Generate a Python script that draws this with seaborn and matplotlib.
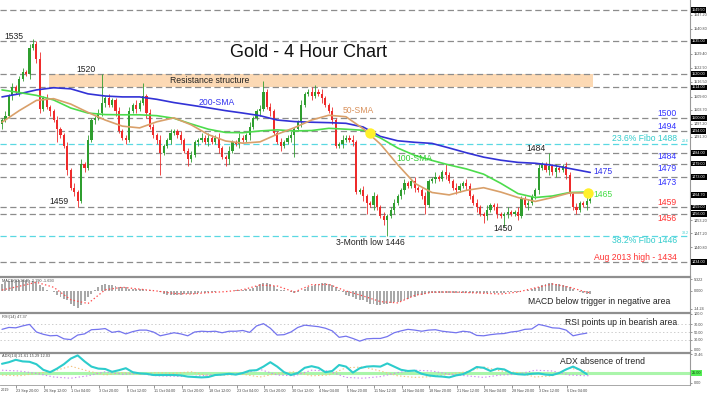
import matplotlib
matplotlib.use("Agg")
import matplotlib.pyplot as plt
from matplotlib.patches import Rectangle
import numpy as np
import pandas as pd
import seaborn as sns

# ---- data (8-hour candles, 20 Sep 2019 -> 6 Dec 2019) ----
first_open = 1497
closes = [1499, 1501, 1510, 1514, 1512, 1518, 1521, 1520, 1532, 1534,
          1527, 1504, 1509, 1505, 1503, 1499, 1495, 1492, 1487, 1476,
          1468, 1466, 1462, 1479, 1477, 1490, 1499, 1500, 1502, 1507,
          1509, 1506, 1508, 1503, 1494, 1491, 1490, 1503, 1506, 1504,
          1507, 1510, 1502, 1496, 1492, 1490, 1484, 1487, 1490, 1493,
          1494, 1492, 1490, 1485, 1481, 1483, 1489, 1490, 1491, 1489,
          1491, 1489, 1491, 1486, 1482, 1481, 1485, 1489, 1488, 1491,
          1490, 1492, 1496, 1500, 1503, 1504, 1512, 1505, 1503, 1493,
          1489, 1487, 1489, 1491, 1492, 1495, 1498, 1506, 1511, 1512,
          1510, 1512, 1511, 1509, 1506, 1503, 1499, 1487, 1488, 1490,
          1491, 1490, 1489, 1466, 1467, 1464, 1461, 1460, 1464, 1459,
          1455, 1453, 1455, 1458, 1461, 1464, 1467, 1470, 1469, 1471,
          1468, 1467, 1464, 1460, 1471, 1472, 1473, 1472, 1475, 1474,
          1471, 1468, 1467, 1469, 1470, 1469, 1464, 1461, 1459, 1456,
          1455, 1458, 1460, 1459, 1456, 1455, 1456, 1457, 1456, 1457,
          1455, 1463, 1460, 1461, 1464, 1467, 1477, 1479, 1476, 1478,
          1475, 1477, 1476, 1478, 1474, 1465, 1459, 1458, 1461, 1460,
          1462, 1463]
up_wick = [1, 2, 1, 2, 1, 1, 2, 1, 2, 2, 1, 3, 1, 2, 1, 1, 2, 1, 1, 2,
           1, 2, 1, 2, 1, 2, 1, 1, 2, 13, 1, 2, 1, 1, 2, 1, 1, 2, 1, 2,
           1, 6, 1, 2, 1, 1, 2, 1, 1, 2, 1, 1, 2, 1, 1, 2, 1, 1, 2, 1,
           2, 1, 1, 2, 1, 1, 2, 1, 1, 2, 1, 1, 2, 1, 1, 2, 5, 1, 2, 1,
           1, 2, 1, 1, 2, 1, 1, 2, 1, 1, 2, 3, 1, 2, 1, 1, 2, 1, 1, 2,
           1, 1, 2, 1, 1, 2, 1, 1, 2, 1, 1, 2, 1, 1, 2, 1, 1, 2, 1, 1,
           2, 1, 1, 2, 1, 1, 2, 1, 1, 4, 1, 1, 2, 1, 1, 2, 1, 1, 2, 1,
           1, 2, 1, 1, 2, 1, 1, 2, 1, 1, 2, 1, 1, 2, 1, 1, 2, 1, 1, 6,
           1, 2, 1, 1, 2, 1, 1, 2, 1, 1, 2, 1]
dn_wick = [2, 1, 1, 2, 1, 2, 1, 1, 2, 1, 2, 2, 1, 1, 2, 1, 6, 1, 1, 2,
           1, 2, 3, 1, 2, 1, 1, 2, 1, 1, 2, 1, 1, 2, 1, 1, 2, 1, 1, 2,
           1, 1, 2, 1, 1, 2, 10, 1, 1, 2, 1, 1, 2, 1, 3, 1, 1, 2, 1, 1,
           2, 1, 1, 2, 1, 3, 2, 1, 1, 2, 1, 1, 2, 1, 1, 2, 1, 1, 2, 1,
           1, 2, 1, 1, 2, 10, 1, 2, 1, 1, 2, 1, 1, 2, 1, 1, 2, 1, 1, 2,
           1, 1, 2, 1, 1, 2, 5, 1, 2, 1, 1, 2, 7, 1, 2, 1, 1, 2, 1, 1,
           2, 1, 1, 4, 1, 1, 2, 1, 1, 2, 1, 1, 2, 1, 1, 2, 1, 1, 2, 1,
           3, 2, 1, 1, 2, 1, 5, 2, 1, 1, 2, 1, 1, 2, 1, 1, 2, 1, 1, 2,
           1, 2, 1, 1, 2, 1, 1, 2, 1, 1, 2, 1]

# moving averages, sampled every 5 candles
sma_idx = list(range(0, 171, 5)) + [171]
sma50 = [1498, 1503.3, 1508, 1508.8, 1506.3, 1502.5, 1499, 1496.2, 1495.4, 1498.2,
         1500, 1496.8, 1492.3, 1489.4, 1488.4, 1489, 1492.5, 1495.5, 1499, 1501.2,
         1500.5, 1495, 1488, 1478.6, 1470, 1465.8, 1464.7, 1466.8, 1468, 1466,
         1463.5, 1461.7, 1463.5, 1465.6, 1465.6, 1465.6]
sma100 = [1512.8, 1511.6, 1510.3, 1508.2, 1504.5, 1502.2, 1501.5, 1501.4, 1501.4, 1501,
          1499.8, 1497.2, 1494.8, 1493.3, 1493.2, 1494, 1494.5, 1494, 1494.2, 1495.2,
          1494.8, 1494.3, 1490.8, 1486.2, 1482.8, 1480.5, 1478.4, 1476.6, 1474.2, 1470,
          1465.3, 1463.5, 1464.2, 1465.8, 1466, 1466]
sma200 = [1509.6, 1511, 1512.8, 1513.8, 1513.3, 1511, 1510, 1509.6, 1509.6, 1508.5,
          1507, 1505.8, 1504.6, 1503.3, 1502.2, 1501, 1499, 1498.3, 1498, 1497.8,
          1497.5, 1495.8, 1491.5, 1489.5, 1488.8, 1488.3, 1486.2, 1484, 1482, 1480.6,
          1479.6, 1479.2, 1478.3, 1476.8, 1475.3, 1475]
cross_x = [107, 170.3]
cross_y = [1493.1, 1465.6]

# MACD histogram per candle, signal every 5 candles
macd_hist = [6, 7, 8, 8.5, 9, 9, 9, 9, 8.5, 8,
             7, 5, 3, 1, 0, -1, -3, -5, -6, -7,
             -10, -12, -13.5, -11, -8, -5, -2, 1, 3, 5,
             5.5, 5, 5, 4, 3, 3, 3, 2, 2, 1.5,
             1.5, 1.5, 1, 1, 0, 0, -1, -2, -3, -3,
             -3, -3, -3, -2.5, -2.5, -2, -2, -1.5, -1.5, -1.5,
             -1, -1, -0.5, 0, 0, 0.3, 0, 0.3, 0.5, 0.5,
             1, 1.5, 2, 2.5, 4, 5.5, 6.5, 6.5, 5.5, 4,
             2, 1, 0.5, 0, -1, -1.5, -1, 0, 1.5, 3,
             4, 5, 6, 6.5, 6.5, 6, 5, 3, 1, -1,
             -3, -4, -5, -6, -7, -7.5, -8.5, -10, -10.5, -11,
             -11, -10.5, -10, -9.5, -9, -8.5, -8, -7, -6, -5,
             -4.5, -3.5, -3, -2, -1.5, -1.2, -1.2, -1.2, -1.2, -1.2,
             -1.2, -1.5, -1.5, -1.5, -1.5, -1.5, -1.5, -1.5, -1.5, -1.5,
             -1.5, -1.5, -1.5, -1.5, -1.5, -1.5, -1.5, -1, -1, -0.8,
             -0.5, -0.3, 0, 1, 2, 2.5, 3, 4.5, 6, 6.5,
             6.5, 6, 5.5, 5, 4, 3, 1.5, 0, -1, -1.5,
             -2, -2]
macd_signal = [0.8, 3.8, 7, 3, -7, -10, 1, 3, 1.5, 0,
               -2, -2.4, -1.3, -0.5, 1, 4.8, 4, -0.8, 5, 5.3,
               0, -4, -8.5, -9.5, -3.5, -1, -0.8, -1.2, -1.8, -2.4,
               -0.8, 2.5, 5.6, 3, -1, -1.3]

# RSI and ADX every 2 candles
osc_idx = list(range(0, 171, 2))
rsi = [57, 62, 61, 66, 70, 50, 44, 40, 41, 32,
       30, 42, 45, 56, 57, 59, 49, 52, 45, 51,
       55, 55, 50, 40, 44, 48, 45, 40, 50, 52,
       51, 52, 48, 52, 52, 54, 49, 66, 72, 60,
       42, 43, 50, 62, 68, 66, 64, 60, 53, 36,
       39, 33, 26, 32, 33, 33, 38, 48, 53, 57,
       55, 52, 55, 56, 52, 50, 48, 52, 50, 41,
       40, 43, 45, 46, 50, 52, 57, 58, 70, 66,
       61, 60, 55, 40, 44, 47]
adx = [48, 52, 58, 54, 53, 47, 33, 27, 36, 47,
       61, 69, 54, 41, 36, 35, 28, 32, 37, 27,
       24, 23, 20, 20, 20, 20, 19, 16, 15, 14,
       15, 20, 21, 23, 21, 25, 31, 32, 41, 52,
       41, 27, 20, 25, 38, 42, 38, 27, 30, 45,
       41, 26, 37, 41, 42, 41, 49, 41, 33, 30,
       31, 23, 19, 17, 16, 14, 19, 22, 30, 40,
       38, 30, 36, 34, 25, 22, 21, 23, 24, 21,
       20, 25, 34, 41, 33, 22]
minus_di = [20, 18, 24, 30, 42, 30, 20, 26, 22, 26, 24, 28, 18, 20, 22, 15, 24, 28,
            18, 20, 38, 40, 30, 18, 14, 16, 22, 28, 40, 30, 26, 15, 18, 37, 30, 29]
plus_di = [32, 30, 24, 15, 12, 18, 28, 22, 24, 18, 17, 16, 20, 22, 24, 34, 20, 18,
           32, 30, 14, 12, 16, 26, 32, 30, 22, 18, 14, 20, 22, 32, 30, 20, 18, 19]

grey_levels = [1549.5, 1535, 1520, 1514, 1500, 1494, 1484, 1479, 1473, 1459, 1456, 1434]
fibo_levels = [1488, 1446]
boxed_prices = [1549.5, 1535, 1520, 1514, 1500, 1494, 1484, 1479, 1473, 1464.7, 1459, 1456, 1434]
scale_ticks = [1547.2, 1540.8, 1529.4, 1522.9, 1516.5, 1509.6, 1503.7, 1497.2, 1491.3,
               1453.2, 1447.2, 1440.8]
date_labels = ["23 Sep 20:00", "26 Sep 12:00", "1 Oct 04:00", "3 Oct 20:00", "8 Oct 12:00",
               "11 Oct 04:00", "15 Oct 20:00", "18 Oct 12:00", "23 Oct 04:00", "25 Oct 20:00",
               "30 Oct 12:00", "4 Nov 04:00", "6 Nov 20:00", "11 Nov 12:00", "14 Nov 04:00",
               "18 Nov 20:00", "21 Nov 12:00", "26 Nov 04:00", "28 Nov 20:00", "3 Dec 12:00",
               "6 Dec 04:00"]

# ---- style ----
sns.set_theme(style="white")
plt.rcParams["font.family"] = ["Liberation Sans", "DejaVu Sans"]
plt.rcParams["lines.scale_dashes"] = False

df = pd.DataFrame({"close": closes})
df["open"] = [first_open] + closes[:-1]
df["high"] = df[["open", "close"]].max(axis=1) + up_wick
df["low"] = df[["open", "close"]].min(axis=1) - dn_wick
df["x"] = np.arange(len(df))
bull = df.close >= df.open

W, H = 709, 398
fig = plt.figure(figsize=(W / 100, H / 100), dpi=100)


def panel(top, bottom, share=None):
    return fig.add_axes([0, 1 - bottom / H, 690 / W, (bottom - top) / H], sharex=share)


ax = panel(0, 275)
ax_m = panel(277, 311, ax)
ax_r = panel(313, 351, ax)
ax_a = panel(353, 385, ax)

GREY = "#8c8c8c"

# ---- main price panel ----
ax.add_patch(Rectangle((13.7, 1514), 158.1, 6, fc="#fcd9b4", ec="none", zorder=1))
for lv in grey_levels:
    ax.axhline(lv, color=GREY, lw=0.9, dashes=(4.5, 2.5), zorder=2)
for lv in fibo_levels:
    ax.axhline(lv, color="#5ad8e2", lw=0.9, dashes=(4.5, 2.5), zorder=2)

col = np.where(bull, "#2f9e2f", "#ee2b2b")
ax.vlines(df.x, df.low, df.high, colors=col, lw=0.6, zorder=3)
body = (df.close - df.open).abs().clip(lower=0.5)
ax.bar(df.x, body, bottom=df[["open", "close"]].min(axis=1), width=0.62,
       color=col, lw=0, zorder=3)

sns.lineplot(x=sma_idx, y=sma200, ax=ax, color="#3232d6", lw=1.2, zorder=4)
sns.lineplot(x=sma_idx, y=sma100, ax=ax, color="#4cdc4c", lw=1.2, zorder=4)
sns.lineplot(x=sma_idx, y=sma50, ax=ax, color="#d9a06a", lw=1.2, zorder=4)
ax.plot(cross_x, cross_y, "o", ms=7.5, color="#fff02a", mec="none", zorder=5)

ax.set_xlim(-0.58, 200)
ax.set_ylim(1428, 1554)

t = dict(fontsize=6.2, va="center", zorder=6)
ax.text(89, 1529.8, "Gold - 4 Hour Chart", fontsize=13, ha="center", va="center", color="#111111")
ax.text(3.5, 1537.2, "1535", ha="center", color="#222222", **t)
ax.text(24.4, 1522, "1520", ha="center", color="#222222", **t)
ax.text(60.5, 1517, "Resistance structure", ha="center", color="#222222", **t)
ax.text(62.5, 1506.9, "200-SMA", ha="center", color="#3333ee", **t)
ax.text(99.1, 1503.2, "50-SMA", ha="left", color="#d8905a", **t)
ax.text(120, 1481.2, "100-SMA", ha="center", color="#33cc33", **t)
ax.text(16.6, 1461.5, "1459", ha="center", color="#222222", **t)
ax.text(107, 1442.7, "3-Month low 1446", ha="center", color="#222222", **t)
ax.text(145.6, 1449.5, "1450", ha="center", color="#222222", **t)
ax.text(155.2, 1485.8, "1484", ha="center", color="#222222", **t)
ax.text(172, 1475.2, "1475", ha="left", color="#3333ee", **t)
ax.text(172, 1465.1, "1465", ha="left", color="#44dd44", **t)

right_labels = [(1501.8, "1500", "#3333ff"), (1495.9, "1494", "#3333ff"),
                (1490.4, "23.6% Fibo 1488", "#33cccc"), (1482.1, "1484", "#3333ff"),
                (1476.6, "1479", "#3333ff"), (1470.6, "1473", "#3333ff"),
                (1461, "1459", "#ff3333"), (1453.7, "1456", "#ff3333"),
                (1443.6, "38.2% Fibo 1446", "#33cccc"),
                (1436.2, "Aug 2013 high - 1434", "#ff3333")]
for y, s, c in right_labels:
    ax.text(196.2, y, s, ha="right", color=c, **t)
ax.text(199.8, 1489.5, "23.6", ha="right", va="center", fontsize=2.6, color="#33cccc")
ax.text(199.8, 1447.3, "38.2", ha="right", va="center", fontsize=2.6, color="#33cccc")

# right price scale
ax.yaxis.tick_right()
ax.set_yticks(scale_ticks)
ax.set_yticklabels([f"{v:.2f}" for v in scale_ticks])
ax.tick_params(axis="y", right=True, left=False, length=1.5, width=0.4, pad=1,
               labelsize=2.7, colors="#444444")
for p in boxed_prices:
    ax.text(1.003, p, f"{p:.2f}", transform=ax.get_yaxis_transform(), fontsize=2.7,
            color="white", ha="left", va="center",
            bbox=dict(boxstyle="square,pad=0.2", fc="black", ec="none"))

# ---- MACD ----
ax_m.bar(df.x, macd_hist, width=0.55, color="#a9a9a9", lw=0)
sns.lineplot(x=sma_idx, y=macd_signal, ax=ax_m, color="#ff4d4d", lw=0.9, ls=":")
ax_m.set_ylim(-16, 11.2)
ax_m.text(173.5, 0.265, "MACD below trigger in negative area", transform=ax_m.get_xaxis_transform(),
          ha="center", va="center", fontsize=6.2, color="#222222")
ax_m.text(0.003, 0.88, "MACD(12,26,9) -2.190 -1.693", transform=ax_m.transAxes,
          ha="left", va="center", fontsize=2.8, color="#444444")
ax_m.set_yticks([9.322, 0, -14.24])
ax_m.set_yticklabels(["9.322", "0.000", "-14.24"])

# ---- RSI ----
for lv in (70, 50, 30):
    ax_r.axhline(lv, color="#c4c4c4", lw=0.6, ls=":")
sns.lineplot(x=osc_idx, y=rsi, ax=ax_r, color="#7474ee", lw=0.9)
ax_r.set_ylim(0, 100)
ax_r.text(180, 0.76, "RSI points up in bearish area", transform=ax_r.get_xaxis_transform(),
          ha="center", va="center", fontsize=6.2, color="#222222")
ax_r.text(0.003, 0.9, "RSI(14) 47.37", transform=ax_r.transAxes,
          ha="left", va="center", fontsize=2.8, color="#444444")
ax_r.set_yticks([98, 70, 50, 30, 3])
ax_r.set_yticklabels(["100.0", "70.00", "50.00", "30.00", "0.00"])

# ---- ADX ----
ax_a.axhline(25, color="#aaf5aa", lw=2.2)
sns.lineplot(x=sma_idx, y=minus_di, ax=ax_a, color="#f2c27e", lw=0.8, ls=":")
sns.lineplot(x=sma_idx, y=plus_di, ax=ax_a, color="#cc88ee", lw=0.8, ls=":")
sns.lineplot(x=osc_idx, y=adx, ax=ax_a, color="#2ccccc", lw=1.5)
ax_a.set_ylim(-5, 75)
ax_a.text(174.7, 0.75, "ADX absence of trend", transform=ax_a.get_xaxis_transform(),
          ha="center", va="center", fontsize=6.2, color="#222222")
ax_a.text(0.003, 0.9, "ADX(14) 21.61 15.29 12.03", transform=ax_a.transAxes,
          ha="left", va="center", fontsize=2.8, color="#444444")
ax_a.set_yticks([72.46, 0])
ax_a.set_yticklabels(["72.46", "0.00"])
ax_a.text(1.003, 25, "25.00", transform=ax_a.get_yaxis_transform(), fontsize=2.7,
          color="#114411", ha="left", va="center",
          bbox=dict(boxstyle="square,pad=0.2", fc="#55ee55", ec="none"))

# ---- common axis dressing ----
for a in (ax, ax_m, ax_r, ax_a):
    a.set_xlabel("")
    a.set_ylabel("")
    for s in a.spines.values():
        s.set_visible(False)
    a.spines["right"].set_visible(True)
    a.spines["right"].set_color("#9a9a9a")
    a.spines["right"].set_linewidth(0.8)
    a.tick_params(axis="x", bottom=False, labelbottom=False)
for a in (ax_m, ax_r, ax_a):
    a.spines["top"].set_visible(True)
    a.spines["top"].set_color("#8f8f8f")
    a.spines["top"].set_linewidth(1.6)
    a.yaxis.tick_right()
    a.tick_params(axis="y", right=True, left=False, length=1.5, width=0.4, pad=1,
                  labelsize=2.7, colors="#444444")

ax_a.spines["bottom"].set_visible(True)
ax_a.spines["bottom"].set_color("#9a9a9a")
ax_a.spines["bottom"].set_linewidth(0.6)
tick_pos = 4.2 + 8 * np.arange(len(date_labels))
ax_a.set_xticks(tick_pos)
ax_a.set_xticklabels(date_labels, ha="left")
ax_a.tick_params(axis="x", bottom=True, labelbottom=True, length=2, width=0.4, pad=1,
                 labelsize=2.7, colors="#444444")
ax_a.text(0.001, -0.17, "2019", transform=ax_a.transAxes, ha="left",
          va="center", fontsize=2.7, color="#444444", clip_on=False)
ax.set_xlim(-0.58, 200)

fig.savefig("out.png", dpi=100)
